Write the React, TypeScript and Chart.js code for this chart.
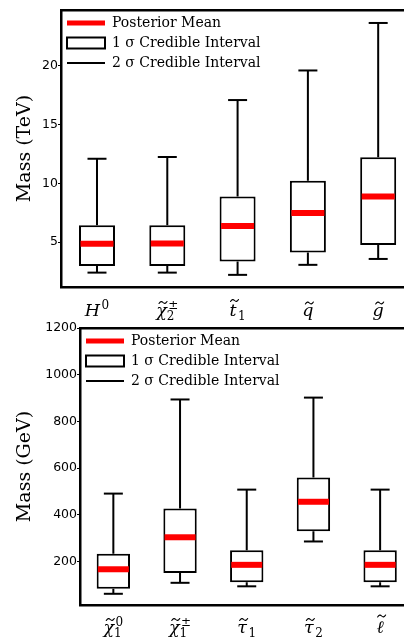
import React, { useEffect, useRef } from 'react';
import { Chart, registerables } from 'chart.js';

Chart.register(...registerables);

// ---------- Top panel (TeV) ----------
const topLabelBase = ['H', 'χ', 't', 'q', 'g'];
const topLabelTilde = [false, true, true, true, true];
const topLabelSub = ['', '2', '1', '', ''];
const topLabelSup = ['0', '±', '', '', ''];
const topYTicks = [5, 10, 15, 20];
const topWhiskerLow = [2.42, 2.42, 2.23, 3.08, 3.58];
const topBoxLow = [2.99, 2.99, 3.36, 4.12, 4.77];
const topMean = [4.86, 4.88, 6.38, 7.48, 8.87];
const topBoxHigh = [6.44, 6.44, 8.87, 10.22, 12.2];
const topWhiskerHigh = [12.08, 12.23, 17.06, 19.57, 23.6];

// ---------- Bottom panel (GeV) ----------
const bottomLabelBase = ['χ', 'χ', 'τ', 'τ', 'ℓ'];
const bottomLabelTilde = [true, true, true, true, true];
const bottomLabelSub = ['1', '1', '1', '2', ''];
const bottomLabelSup = ['0', '±', '', '', ''];
const bottomYTicks = [200, 400, 600, 800, 1000, 1200];
const bottomWhiskerLow = [62, 109, 94, 286, 94];
const bottomBoxLow = [84, 151, 111, 330, 111];
const bottomMean = [167, 304, 186, 456, 186];
const bottomBoxHigh = [233, 427, 248, 560, 248];
const bottomWhiskerHigh = [491, 894, 508, 902, 508];

const legendTexts = ['Posterior Mean', '1 σ Credible Interval', '2 σ Credible Interval'];

const TILDE_RISE: Record<string, number> = { 'χ': 13.5, 't': 15.5, 'q': 13, 'g': 13, 'τ': 13.5, 'ℓ': 17, 'H': 16 };

function drawTilde(ctx: CanvasRenderingContext2D, cx: number, cy: number, w: number) {
  const x0 = cx - w / 2;
  ctx.beginPath();
  ctx.moveTo(x0, cy + 1);
  ctx.quadraticCurveTo(x0 + w / 4, cy - 2.2, x0 + w / 2, cy);
  ctx.quadraticCurveTo(x0 + (3 * w) / 4, cy + 2.2, x0 + w, cy - 1);
  ctx.lineWidth = 1.1;
  ctx.lineCap = 'round';
  ctx.stroke();
}

const mathLabelsPlugin = {
  id: 'mathLabels',
  afterDraw(chart: any, _args: any, opts: any) {
    const { ctx, chartArea } = chart;
    const xs = chart.scales.x;
    const base: string[] = opts.base;
    const tilde: boolean[] = opts.tilde;
    const sub: string[] = opts.sub;
    const sup: string[] = opts.sup;
    const baseFont = `italic ${opts.baseSize}px "DejaVu Serif"`;
    const scriptFont = `${opts.scriptSize}px "DejaVu Serif"`;
    const y0 = chartArea.bottom + opts.baselineOffset;
    ctx.save();
    ctx.fillStyle = '#000';
    ctx.strokeStyle = '#000';
    ctx.textBaseline = 'alphabetic';
    ctx.textAlign = 'left';
    for (let i = 0; i < base.length; i++) {
      const cx = xs.getPixelForValue(i);
      ctx.font = baseFont;
      const wB = ctx.measureText(base[i]).width;
      ctx.font = scriptFont;
      const wSub = sub[i] ? ctx.measureText(sub[i]).width : 0;
      const wSup = sup[i] ? ctx.measureText(sup[i]).width : 0;
      const wS = Math.max(wSub, wSup);
      const gap = wS ? 1.5 : 0;
      const total = wB + gap + wS;
      const x0 = cx - total / 2;
      ctx.font = baseFont;
      ctx.fillText(base[i], x0, y0);
      if (tilde[i]) drawTilde(ctx, x0 + wB / 2 + 1.5, y0 - (TILDE_RISE[base[i]] || 13), 8);
      ctx.font = scriptFont;
      if (sup[i]) ctx.fillText(sup[i], x0 + wB + gap, y0 - 7.5);
      if (sub[i]) ctx.fillText(sub[i], x0 + wB + gap - (sup[i] ? 1.5 : 0), y0 + 4);
    }
    ctx.restore();
  },
};

interface PanelSpec {
  labelBase: string[];
  labelTilde: boolean[];
  labelSub: string[];
  labelSup: string[];
  yTicks: number[];
  whiskerLow: number[];
  boxLow: number[];
  mean: number[];
  boxHigh: number[];
  whiskerHigh: number[];
  yMin: number;
  yMax: number;
  yTitle: string;
  xMin: number;
  xMax: number;
  yAxisWidth: number;
  xAxisHeight: number;
  topPad: number;
  barPct: number;
  meanRadius: number;
  capRadius: number;
  labelBaseline: number;
}

const topSpec: PanelSpec = {
  labelBase: topLabelBase,
  labelTilde: topLabelTilde,
  labelSub: topLabelSub,
  labelSup: topLabelSup,
  yTicks: topYTicks,
  whiskerLow: topWhiskerLow,
  boxLow: topBoxLow,
  mean: topMean,
  boxHigh: topBoxHigh,
  whiskerHigh: topWhiskerHigh,
  yMin: 1.2,
  yMax: 24.7,
  yTitle: 'Mass (TeV)',
  xMin: -0.512,
  xMax: 4.353,
  yAxisWidth: 61,
  xAxisHeight: 33,
  topPad: 10,
  barPct: 0.512,
  meanRadius: 16.5,
  capRadius: 9.5,
  labelBaseline: 29,
};

const bottomSpec: PanelSpec = {
  labelBase: bottomLabelBase,
  labelTilde: bottomLabelTilde,
  labelSub: bottomLabelSub,
  labelSup: bottomLabelSup,
  yTicks: bottomYTicks,
  whiskerLow: bottomWhiskerLow,
  boxLow: bottomBoxLow,
  mean: bottomMean,
  boxHigh: bottomBoxHigh,
  whiskerHigh: bottomWhiskerHigh,
  yMin: 14,
  yMax: 1200,
  yTitle: 'Mass (GeV)',
  xMin: -0.5,
  xMax: 4.343,
  yAxisWidth: 80,
  xAxisHeight: 32,
  topPad: 8,
  barPct: 0.5,
  meanRadius: 15.5,
  capRadius: 9.5,
  labelBaseline: 28,
};

function buildConfig(s: PanelSpec): any {
  const idx = s.mean.map((_, i) => i);
  const whiskers: any[] = [];
  idx.forEach((i) => {
    whiskers.push(
      { x: i, y: s.boxHigh[i] },
      { x: i, y: s.whiskerHigh[i] },
      { x: i, y: null },
      { x: i, y: s.boxLow[i] },
      { x: i, y: s.whiskerLow[i] },
      { x: i, y: null }
    );
  });
  const caps: any[] = [];
  idx.forEach((i) => {
    caps.push({ x: i, y: s.whiskerHigh[i] }, { x: i, y: s.whiskerLow[i] });
  });
  const means = idx.map((i) => ({ x: i, y: s.mean[i] }));
  const boxes = idx.map((i) => ({ x: i, y: [s.boxLow[i], s.boxHigh[i]] }));

  const xCommon = {
    type: 'linear',
    min: s.xMin,
    max: s.xMax,
    offset: false,
    grid: { display: false, offset: false },
    border: { display: true, color: '#000', width: 2.5 },
    ticks: { display: false },
    afterBuildTicks: (sc: any) => {
      sc.ticks = idx.map((v) => ({ value: v }));
    },
  };

  return {
    type: 'bar',
    data: {
      datasets: [
        {
          type: 'bar',
          data: boxes,
          backgroundColor: '#ffffff',
          borderColor: '#000000',
          borderWidth: 2,
          borderSkipped: false,
          barPercentage: s.barPct,
          categoryPercentage: 1,
          order: 3,
        },
        {
          type: 'line',
          data: whiskers,
          borderColor: '#000000',
          borderWidth: 2,
          pointRadius: 0,
          spanGaps: false,
          fill: false,
          order: 2,
        },
        {
          type: 'line',
          data: caps,
          showLine: false,
          pointStyle: 'line',
          pointRadius: s.capRadius,
          pointBorderWidth: 2,
          pointBorderColor: '#000000',
          order: 1,
        },
        {
          type: 'line',
          data: means,
          showLine: false,
          pointStyle: 'line',
          pointRadius: s.meanRadius,
          pointBorderWidth: 6,
          pointBorderColor: '#ff0000',
          order: 0,
        },
      ],
    },
    options: {
      animation: false,
      responsive: false,
      events: [],
      devicePixelRatio: 1,
      layout: { autoPadding: false, padding: { left: 0, right: 1, top: 0, bottom: 0 } },
      scales: {
        x: {
          ...xCommon,
          position: 'bottom',
          afterFit: (sc: any) => {
            sc.height = s.xAxisHeight;
          },
        },
        xTop: {
          ...xCommon,
          position: 'top',
          afterFit: (sc: any) => {
            sc.height = s.topPad;
          },
        },
        y: {
          type: 'linear',
          min: s.yMin,
          max: s.yMax,
          grid: {
            display: true,
            drawOnChartArea: false,
            tickLength: 3,
            color: '#000',
            tickColor: '#000',
            tickWidth: 1,
          },
          border: { display: true, color: '#000', width: 2.5 },
          ticks: {
            padding: 0,
            color: '#000',
            font: { family: '"DejaVu Sans"', size: 12.5 },
            callback: (v: any) => String(v),
          },
          afterBuildTicks: (sc: any) => {
            sc.ticks = s.yTicks.map((v) => ({ value: v }));
          },
          title: {
            display: true,
            text: s.yTitle,
            color: '#000',
            font: { family: '"DejaVu Serif"', size: 19 },
            padding: { top: 14, bottom: 0 },
          },
          afterFit: (sc: any) => {
            sc.width = s.yAxisWidth;
          },
        },
      },
      plugins: {
        tooltip: { enabled: false },
        legend: {
          position: 'chartArea',
          align: 'start',
          title: {
            display: true,
            text: '',
            color: '#000',
            font: { size: 1, lineHeight: 1 },
            padding: { top: 0, bottom: s.topPad - 1 },
          },
          labels: {
            usePointStyle: true,
            pointStyleWidth: 38,
            boxHeight: 11,
            padding: 6,
            color: '#000',
            font: { family: '"DejaVu Serif"', size: 14 },
            generateLabels: () => [
              {
                text: legendTexts[0],
                pointStyle: 'line',
                fillStyle: '#ff0000',
                strokeStyle: '#ff0000',
                fontColor: '#000000',
                lineWidth: 5,
                hidden: false,
                datasetIndex: 3,
              },
              {
                text: legendTexts[1],
                pointStyle: 'rect',
                fillStyle: '#ffffff',
                strokeStyle: '#000000',
                fontColor: '#000000',
                lineWidth: 2,
                hidden: false,
                datasetIndex: 0,
              },
              {
                text: legendTexts[2],
                pointStyle: 'line',
                fillStyle: '#000000',
                strokeStyle: '#000000',
                fontColor: '#000000',
                lineWidth: 2,
                hidden: false,
                datasetIndex: 1,
              },
            ],
          },
        },
        mathLabels: {
          base: s.labelBase,
          tilde: s.labelTilde,
          sub: s.labelSub,
          sup: s.labelSup,
          baseSize: 17.5,
          scriptSize: 12,
          baselineOffset: s.labelBaseline,
        },
      },
    },
    plugins: [mathLabelsPlugin],
  };
}

function Panel({ spec, height }: { spec: PanelSpec; height: number }) {
  const ref = useRef<HTMLCanvasElement>(null);
  useEffect(() => {
    const chart = new Chart(ref.current as HTMLCanvasElement, buildConfig(spec));
    return () => chart.destroy();
  }, [spec]);
  return (
    <canvas
      ref={ref}
      width={404}
      height={height}
      style={{ display: 'block', width: 404, height }}
    />
  );
}

export default function App() {
  return (
    <div style={{ position: 'absolute', left: 0, top: 0, width: 404, height: 637, background: '#ffffff' }}>
      <Panel spec={topSpec} height={320} />
      <Panel spec={bottomSpec} height={317} />
    </div>
  );
}
